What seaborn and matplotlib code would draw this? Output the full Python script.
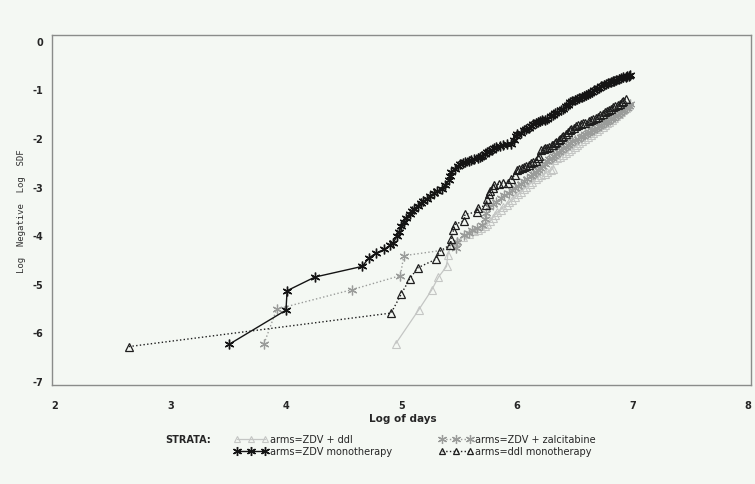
import matplotlib
matplotlib.use("Agg")
import matplotlib.pyplot as plt
from matplotlib.lines import Line2D
import seaborn as sns
import pandas as pd

# -----------------------------
# Data: log(-log S) vs log(days) per treatment arm
# -----------------------------
zdv_ddi_x = [4.95, 5.15, 5.26, 5.32, 5.39, 5.40, 5.43, 5.48, 5.53, 5.58,
             5.63, 5.66, 5.69, 5.72, 5.74, 5.77, 5.79, 5.81, 5.83, 5.86,
             5.88, 5.91, 5.93, 5.96, 5.98, 6.01, 6.03, 6.06, 6.08, 6.11,
             6.13, 6.16, 6.18, 6.21, 6.24, 6.26, 6.29, 6.31, 6.32, 6.35,
             6.37, 6.40, 6.42, 6.45, 6.47, 6.50, 6.52, 6.54, 6.56, 6.59,
             6.61, 6.64, 6.66, 6.69, 6.71, 6.74, 6.76, 6.78, 6.80, 6.82,
             6.84, 6.86, 6.88, 6.90, 6.92, 6.94, 6.96]
zdv_ddi_y = [-6.23, -5.53, -5.13, -4.86, -4.64, -4.41, -4.20, -4.12, -4.04, -3.98,
             -3.92, -3.89, -3.86, -3.81, -3.76, -3.70, -3.64, -3.58, -3.52, -3.47,
             -3.42, -3.37, -3.32, -3.27, -3.22, -3.16, -3.11, -3.05, -3.00, -2.95,
             -2.90, -2.85, -2.80, -2.77, -2.73, -2.70, -2.66, -2.63, -2.46, -2.42,
             -2.38, -2.34, -2.30, -2.26, -2.22, -2.18, -2.15, -2.10, -2.06, -2.02,
             -1.98, -1.94, -1.90, -1.86, -1.82, -1.78, -1.74, -1.70, -1.66, -1.62,
             -1.58, -1.54, -1.50, -1.46, -1.42, -1.38, -1.35]

zdv_zal_x = [3.81, 3.92, 4.57, 4.99, 5.02, 5.47, 5.48, 5.54, 5.58, 5.61,
             5.65, 5.70, 5.72, 5.73, 5.76, 5.79, 5.82, 5.86, 5.89, 5.93,
             5.96, 5.98, 6.01, 6.03, 6.06, 6.09, 6.12, 6.14, 6.16, 6.18,
             6.20, 6.22, 6.24, 6.26, 6.28, 6.30, 6.32, 6.34, 6.36, 6.38,
             6.40, 6.42, 6.44, 6.46, 6.48, 6.50, 6.53, 6.55, 6.57, 6.59,
             6.61, 6.63, 6.65, 6.67, 6.69, 6.71, 6.73, 6.75, 6.77, 6.79,
             6.81, 6.83, 6.85, 6.87, 6.89, 6.91, 6.93, 6.95, 6.97, 6.98]
zdv_zal_y = [-6.23, -5.52, -5.12, -4.83, -4.42, -4.27, -4.14, -4.00, -3.95, -3.90,
             -3.85, -3.79, -3.66, -3.55, -3.42, -3.36, -3.31, -3.24, -3.18, -3.12,
             -3.07, -3.02, -2.98, -2.94, -2.89, -2.84, -2.79, -2.74, -2.70, -2.66,
             -2.62, -2.58, -2.53, -2.48, -2.44, -2.40, -2.36, -2.33, -2.29, -2.25,
             -2.21, -2.18, -2.14, -2.10, -2.07, -2.04, -2.01, -1.98, -1.95, -1.92,
             -1.89, -1.87, -1.84, -1.82, -1.79, -1.76, -1.73, -1.70, -1.67, -1.64,
             -1.61, -1.58, -1.55, -1.52, -1.48, -1.45, -1.42, -1.38, -1.34, -1.30]

zdv_mono_x = [3.51, 4.00, 4.01, 4.25, 4.66, 4.72, 4.78, 4.85, 4.90, 4.93,
              4.96, 4.98, 5.00, 5.02, 5.04, 5.07, 5.09, 5.11, 5.14, 5.17,
              5.19, 5.22, 5.25, 5.28, 5.31, 5.35, 5.38, 5.41, 5.42, 5.43,
              5.46, 5.49, 5.51, 5.53, 5.55, 5.58, 5.60, 5.63, 5.66, 5.68,
              5.70, 5.72, 5.74, 5.76, 5.78, 5.80, 5.82, 5.85, 5.88, 5.91,
              5.95, 5.97, 5.99, 6.00, 6.03, 6.06, 6.08, 6.10, 6.12, 6.14,
              6.16, 6.18, 6.20, 6.22, 6.24, 6.26, 6.29, 6.31, 6.33, 6.35,
              6.38, 6.40, 6.42, 6.44, 6.46, 6.48, 6.50, 6.52, 6.54, 6.56,
              6.58, 6.60, 6.61, 6.63, 6.65, 6.67, 6.69, 6.71, 6.73, 6.75,
              6.77, 6.79, 6.81, 6.83, 6.84, 6.86, 6.88, 6.90, 6.92, 6.94,
              6.95, 6.97, 6.98]
zdv_mono_y = [-6.24, -5.54, -5.14, -4.86, -4.64, -4.46, -4.37, -4.29, -4.21, -4.15,
              -4.02, -3.93, -3.80, -3.73, -3.64, -3.57, -3.51, -3.45, -3.40, -3.34,
              -3.30, -3.25, -3.19, -3.14, -3.09, -3.04, -2.97, -2.87, -2.78, -2.70,
              -2.63, -2.57, -2.53, -2.51, -2.49, -2.47, -2.46, -2.44, -2.42, -2.39,
              -2.36, -2.32, -2.29, -2.26, -2.24, -2.21, -2.18, -2.16, -2.15, -2.13,
              -2.12, -2.04, -1.95, -1.92, -1.89, -1.84, -1.81, -1.79, -1.76, -1.72,
              -1.70, -1.67, -1.65, -1.63, -1.62, -1.60, -1.55, -1.52, -1.48, -1.46,
              -1.43, -1.40, -1.35, -1.31, -1.26, -1.23, -1.21, -1.19, -1.17, -1.15,
              -1.13, -1.11, -1.09, -1.07, -1.05, -1.02, -0.99, -0.96, -0.92, -0.90,
              -0.88, -0.87, -0.85, -0.83, -0.82, -0.80, -0.78, -0.77, -0.75, -0.74,
              -0.73, -0.72, -0.71]

ddi_mono_x = [2.64, 4.91, 5.00, 5.07, 5.14, 5.30, 5.33, 5.42, 5.43, 5.45,
              5.46, 5.54, 5.55, 5.65, 5.66, 5.73, 5.74, 5.76, 5.77, 5.79,
              5.80, 5.84, 5.88, 5.92, 5.95, 5.98, 6.00, 6.02, 6.04, 6.06,
              6.08, 6.10, 6.12, 6.14, 6.16, 6.18, 6.19, 6.21, 6.23, 6.24,
              6.26, 6.28, 6.30, 6.31, 6.33, 6.34, 6.36, 6.37, 6.39, 6.40,
              6.42, 6.44, 6.46, 6.47, 6.49, 6.51, 6.53, 6.55, 6.57, 6.59,
              6.62, 6.64, 6.66, 6.68, 6.70, 6.72, 6.74, 6.76, 6.78, 6.80,
              6.81, 6.83, 6.85, 6.87, 6.89, 6.91, 6.92, 6.94]
ddi_mono_y = [-6.29, -5.60, -5.20, -4.90, -4.67, -4.49, -4.33, -4.20, -4.08, -3.90,
              -3.78, -3.70, -3.57, -3.52, -3.44, -3.38, -3.25, -3.16, -3.08, -3.02,
              -2.97, -2.95, -2.93, -2.92, -2.84, -2.77, -2.66, -2.64, -2.62, -2.60,
              -2.58, -2.55, -2.52, -2.50, -2.47, -2.40, -2.36, -2.25, -2.22, -2.21,
              -2.20, -2.18, -2.15, -2.14, -2.10, -2.08, -2.04, -2.02, -1.98, -1.95,
              -1.91, -1.88, -1.84, -1.81, -1.79, -1.76, -1.73, -1.71, -1.69, -1.68,
              -1.65, -1.63, -1.61, -1.58, -1.56, -1.53, -1.50, -1.47, -1.45, -1.42,
              -1.40, -1.37, -1.35, -1.32, -1.29, -1.26, -1.24, -1.19]

labels = ["arms=ZDV + ddI", "arms=ZDV + zalcitabine", "arms=ZDV monotherapy", "arms=ddI monotherapy"]
x_ticks = [2, 3, 4, 5, 6, 7, 8]
y_ticks = [0, -1, -2, -3, -4, -5, -6, -7]

# -----------------------------
# Styles
# -----------------------------
ASTER = (6, 2, 0)
styles = {
    labels[0]: dict(color="#c4c6c4", marker="^", ls="-", lw=0.9, ms=5.5, mew=0.8),
    labels[1]: dict(color="#9a9c9a", marker=ASTER, ls=":", lw=1.0, ms=7, mew=0.9),
    labels[2]: dict(color="#141414", marker=ASTER, ls="-", lw=1.0, ms=7, mew=1.0),
    labels[3]: dict(color="#1e1e1e", marker="^", ls=":", lw=1.0, ms=5.5, mew=0.9),
}
series = {
    labels[0]: (zdv_ddi_x, zdv_ddi_y),
    labels[1]: (zdv_zal_x, zdv_zal_y),
    labels[2]: (zdv_mono_x, zdv_mono_y),
    labels[3]: (ddi_mono_x, ddi_mono_y),
}

BG = "#f4f8f3"
FRAME = "#8a8c8a"
W, H = 755, 485

sns.set_style("white")
plt.rcParams["font.family"] = ["DejaVu Sans"]

fig = plt.figure(figsize=(W / 100, H / 100), dpi=100, facecolor=BG)
ax = fig.add_axes([52 / W, 1 - 386 / H, (751 - 52) / W, (386 - 36) / H])
ax.set_facecolor(BG)

for name, (xs, ys) in series.items():
    st = styles[name]
    df = pd.DataFrame({"x": xs, "y": ys})
    sns.lineplot(data=df, x="x", y="y", sort=False, estimator=None, ax=ax,
                 color=st["color"], linestyle=st["ls"], linewidth=st["lw"],
                 marker=st["marker"], markersize=st["ms"], markerfacecolor="none",
                 markeredgecolor=st["color"], markeredgewidth=st["mew"])

ax.set_xlim(1.975, 8.025)
ax.set_ylim(-7.08, 0.12)
ax.set_xticks(x_ticks)
ax.set_yticks(y_ticks)
ax.set_xticklabels([str(t) for t in x_ticks], fontsize=7, fontweight="bold")
ax.set_yticklabels([str(t).replace("-", "\u2010") for t in y_ticks],
                   fontsize=7, fontweight="bold")
ax.tick_params(axis="both", direction="out", length=3, width=0.8, color=FRAME)
ax.tick_params(axis="x", pad=8)
ax.tick_params(axis="y", pad=3)
for sp in ax.spines.values():
    sp.set_color(FRAME)
    sp.set_linewidth(1.0)

ax.set_xlabel("")
ax.set_ylabel("Log  Negative  Log  SDF", fontsize=6.5, family="DejaVu Sans Mono",
              color="#333333", labelpad=5)
fig.text(403 / W, 1 - 419 / H, "Log of days", fontsize=7.5, fontweight="bold",
         ha="center", va="center")

# -----------------------------
# Legend (SAS style STRATA block)
# -----------------------------
fig.text(165 / W, 1 - 440 / H, "STRATA:", fontsize=7, fontweight="bold", va="center")
legend_pos = [(237, 440), (442, 440), (237, 452), (442, 452)]
for name, (lx, ly) in zip(labels, legend_pos):
    st = styles[name]
    yy = 1 - ly / H
    xs = [lx / W, (lx + 14) / W, (lx + 28) / W]
    fig.add_artist(Line2D(xs, [yy] * 3, transform=fig.transFigure, color=st["color"],
                          ls=st["ls"], lw=st["lw"], marker=st["marker"], ms=st["ms"] - 0.5,
                          mfc="none", mec=st["color"], mew=st["mew"]))
    fig.text((lx + 33) / W, yy, name, fontsize=7, va="center")

fig.savefig("out.png", dpi=100, facecolor=BG)
plt.close(fig)
